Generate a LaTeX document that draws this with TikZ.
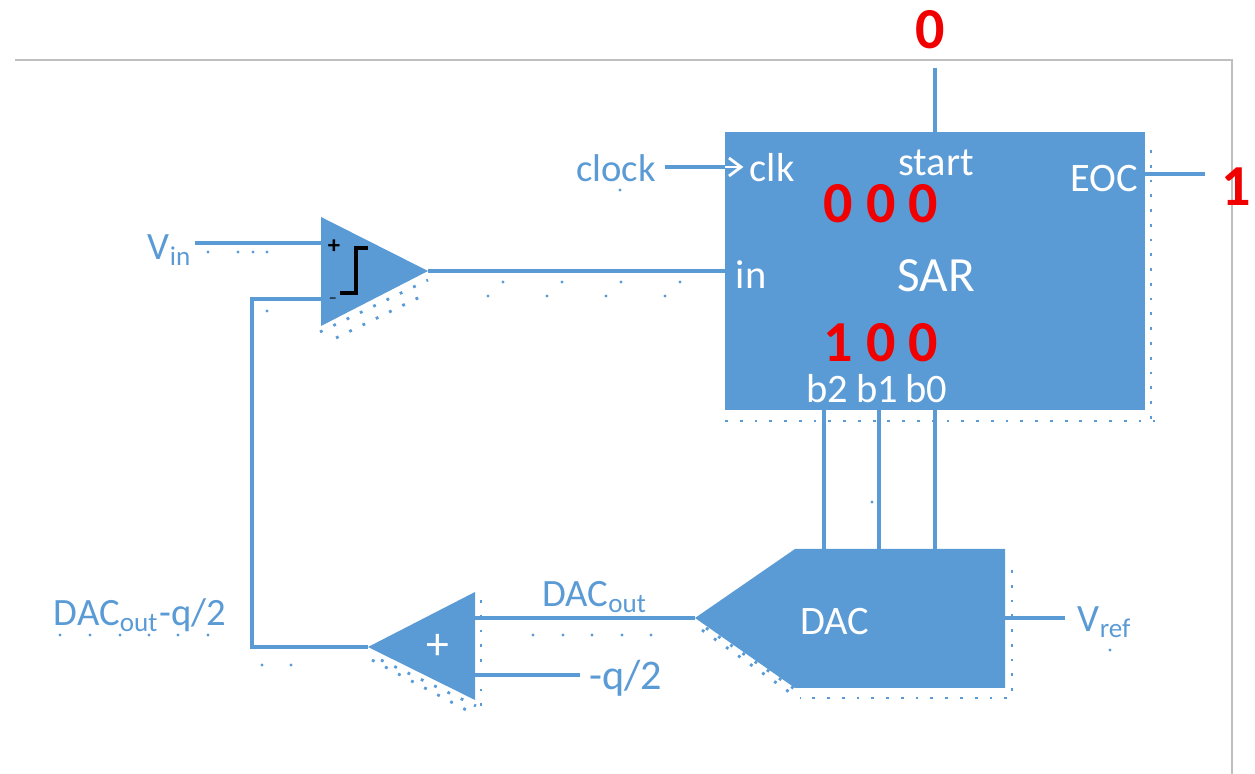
\documentclass[tikz,border=0pt]{standalone}
\usepackage{fontspec}
\setmainfont{Carlito}
\definecolor{sarblue}{HTML}{5B9BD5}
\definecolor{frameline}{HTML}{BFBFBF}
\definecolor{bitred}{HTML}{F00000}
\tikzset{
  wire/.style={draw=sarblue,line width=1.2pt},
  block/.style={fill=sarblue},
  dither/.style={draw=sarblue,line width=0.8pt,dash pattern=on 0.8pt off 3.4pt},
  bluetxt/.style={text=sarblue,inner sep=0pt,font=\fontsize{11}{13}\selectfont},
  whitetxt/.style={text=white,inner sep=0pt,font=\fontsize{11.5}{14}\selectfont},
  redtxt/.style={text=bitred,inner sep=0pt,font=\fontsize{16.5}{19}\selectfont\bfseries}
}
\newcommand{\wirelink}[2]{\draw[wire] (#1) -- (#2);}
\newcommand{\speck}[2]{\fill[sarblue] ( #1 , #2 ) circle (0.45pt);}
\begin{document}
\begin{tikzpicture}[x=0.01cm,y=-0.01cm]
        \useasboundingbox (0,0) rectangle (1255,774);
        % frame
        \coordinate (frameA) at (15,60);
        \coordinate (frameB) at (1232,60);
        \coordinate (frameC) at (1232,774);
        \draw[frameline,line width=0.5pt] (frameA) -- (frameB) -- (frameC);
        % blocks
        \coordinate (sarTL) at (725,132);
        \coordinate (sarBR) at (1145,410);
        \fill[block] (sarTL) rectangle (sarBR);
        \coordinate (cmpA) at (321,217);
        \coordinate (cmpB) at (321,326);
        \coordinate (cmpC) at (428,271);
        \fill[block] (cmpA) -- (cmpC) -- (cmpB) -- cycle;
        \coordinate (addA) at (475,592);
        \coordinate (addB) at (475,700);
        \coordinate (addC) at (368,647);
        \fill[block] (addA) -- (addB) -- (addC) -- cycle;
        \coordinate (dacA) at (695,618);
        \coordinate (dacB) at (795,549);
        \coordinate (dacC) at (1005,549);
        \coordinate (dacD) at (1005,688);
        \coordinate (dacE) at (795,688);
        \fill[block] (dacA) -- (dacB) -- (dacC) -- (dacD) -- (dacE) -- cycle;
        % free ends and ports
        \coordinate (startEnd) at (935,68);
        \coordinate (startPort) at (935,132);
        \coordinate (clkEnd) at (665,167);
        \coordinate (clkPort) at (725,167);
        \coordinate (clkTip) at (741,167);
        \coordinate (clkUp) at (729,158);
        \coordinate (clkDown) at (729,176);
        \coordinate (eocPort) at (1145,174);
        \coordinate (eocEnd) at (1205,174);
        \coordinate (inPort) at (725,271);
        \coordinate (vinEnd) at (195,243);
        \coordinate (vinPort) at (321,243);
        \coordinate (fbPort) at (321,299);
        \coordinate (fbUp) at (252,299);
        \coordinate (fbDown) at (252,647);
        \coordinate (btwoTop) at (824,410);
        \coordinate (btwoEnd) at (824,549);
        \coordinate (boneTop) at (879,410);
        \coordinate (boneEnd) at (879,549);
        \coordinate (bzeroTop) at (935,410);
        \coordinate (bzeroEnd) at (935,549);
        \coordinate (vrefPort) at (1005,618);
        \coordinate (vrefEnd) at (1065,618);
        \coordinate (addTop) at (475,618);
        \coordinate (addLow) at (475,675);
        \coordinate (qEnd) at (580,675);
        % connectors
        \wirelink{startEnd}{startPort}
        \wirelink{clkEnd}{clkPort}
        \wirelink{eocPort}{eocEnd}
        \wirelink{cmpC}{inPort}
        \wirelink{vinEnd}{vinPort}
        \draw[wire] (fbPort) -- (fbUp) -- (fbDown) -- (addC);
        \wirelink{btwoTop}{btwoEnd}
        \wirelink{boneTop}{boneEnd}
        \wirelink{bzeroTop}{bzeroEnd}
        \wirelink{vrefPort}{vrefEnd}
        \wirelink{dacA}{addTop}
        \wirelink{addLow}{qEnd}
        % clock chevron
        \draw[white,line width=0.8pt] (clkPort) -- (clkTip);
        \draw[white,line width=0.8pt] (clkUp) -- (clkTip) -- (clkDown);
        % comparator step
        \coordinate (stepA) at (340,293);
        \coordinate (stepB) at (356,293);
        \coordinate (stepC) at (356,248);
        \coordinate (stepD) at (368,248);
        \draw[black,line width=1.2pt] (stepA) -- (stepB) -- (stepC) -- (stepD);
        % sar labels
        \node[whitetxt] (clkLabel) at (772,168) {clk};
        \node[whitetxt] (startLabel) at (936,163) {start};
        \node[whitetxt] (eocLabel) at (1104,179) {EOC};
        \node[whitetxt] (inLabel) at (751,275) {in};
        \node[whitetxt,font=\fontsize{14}{16}\selectfont] (sarLabel) at (936,276) {SAR};
        \node[whitetxt] (btwoLabel) at (827,389) {b2};
        \node[whitetxt] (boneLabel) at (877,389) {b1};
        \node[whitetxt] (bzeroLabel) at (926,389) {b0};
        % other labels
        \node[whitetxt,font=\fontsize{11.5}{14}\selectfont] (dacLabel) at (835,622) {DAC};
        \node[whitetxt,font=\fontsize{13}{15}\selectfont] (addLabel) at (438,647) {+};
        \node[inner sep=0pt,font=\fontsize{7}{8}\selectfont\bfseries] (plusLabel) at (334,247) {+};
        \node[inner sep=0pt,font=\fontsize{7}{8}\selectfont,text=black!60!sarblue] (minusLabel) at (333,302) {-};
        \node[bluetxt] (clockLabel) at (616,168) {clock};
        \node[bluetxt] (vinLabel) at (170,250) {V\textsubscript{in}};
        \node[bluetxt] (vrefLabel) at (1105,622) {V\textsubscript{ref}};
        \node[bluetxt] (dacoutLabel) at (595,597) {DAC\textsubscript{out}};
        \node[bluetxt] (sumLabel) at (140,615) {DAC\textsubscript{out}-q/2};
        \node[bluetxt,font=\fontsize{12}{14}\selectfont] (qLabel) at (626,678) {-q/2};
        % red bits
        \node[redtxt] (startBit) at (930,30) {0};
        \node[redtxt] (eocBit) at (1236,187) {1};
        \node[redtxt] (topA) at (838,204) {0};
        \node[redtxt] (topB) at (881,204) {0};
        \node[redtxt] (topC) at (923,204) {0};
        \node[redtxt] (lowA) at (838,343) {1};
        \node[redtxt] (lowB) at (881,343) {0};
        \node[redtxt] (lowC) at (923,343) {0};
        % dither along the edges
        \coordinate (ditherA) at (725,421);
        \coordinate (ditherB) at (1155,421);
        \coordinate (ditherC) at (1151,150);
        \coordinate (ditherD) at (1151,421);
        \draw[dither] (ditherA) -- (ditherB);
        \draw[dither] (ditherC) -- (ditherD);
        \coordinate (ditherE) at (1012,570);
        \coordinate (ditherF) at (1012,698);
        \coordinate (ditherG) at (800,698);
        \draw[dither] (ditherE) -- (ditherF) -- (ditherG);
        \coordinate (ditherH) at (702,630);
        \coordinate (ditherI) at (792,694);
        \draw[dither] (ditherH) -- (ditherI);
        \coordinate (ditherJ) at (706,628);
        \coordinate (ditherK) at (796,690);
        \draw[dither] (ditherJ) -- (ditherK);
        \coordinate (ditherL) at (320,332);
        \coordinate (ditherM) at (428,280);
        \draw[dither] (ditherL) -- (ditherM);
        \coordinate (ditherN) at (336,338);
        \coordinate (ditherO) at (422,296);
        \draw[dither] (ditherN) -- (ditherO);
        \coordinate (ditherP) at (372,660);
        \coordinate (ditherQ) at (470,712);
        \draw[dither] (ditherP) -- (ditherQ);
        \coordinate (ditherR) at (381,660);
        \coordinate (ditherS) at (476,706);
        \draw[dither] (ditherR) -- (ditherS);
        \coordinate (ditherT) at (481,600);
        \coordinate (ditherU) at (481,712);
        \draw[dither] (ditherT) -- (ditherU);
        % loose specks
        \speck{208}{252}
        \speck{238}{252}
        \speck{253}{252}
        \speck{267}{252}
        \speck{267}{311}
        \speck{488}{296}
        \speck{547}{296}
        \speck{606}{296}
        \speck{665}{296}
        \speck{503}{282}
        \speck{562}{282}
        \speck{621}{282}
        \speck{680}{282}
        \speck{620}{190}
        \speck{533}{635}
        \speck{563}{635}
        \speck{592}{635}
        \speck{622}{635}
        \speck{651}{635}
        \speck{60}{635}
        \speck{90}{635}
        \speck{120}{635}
        \speck{149}{635}
        \speck{178}{635}
        \speck{208}{635}
        \speck{262}{665}
        \speck{291}{665}
        \speck{872}{502}
        \speck{1110}{650}
\end{tikzpicture}
\end{document}
